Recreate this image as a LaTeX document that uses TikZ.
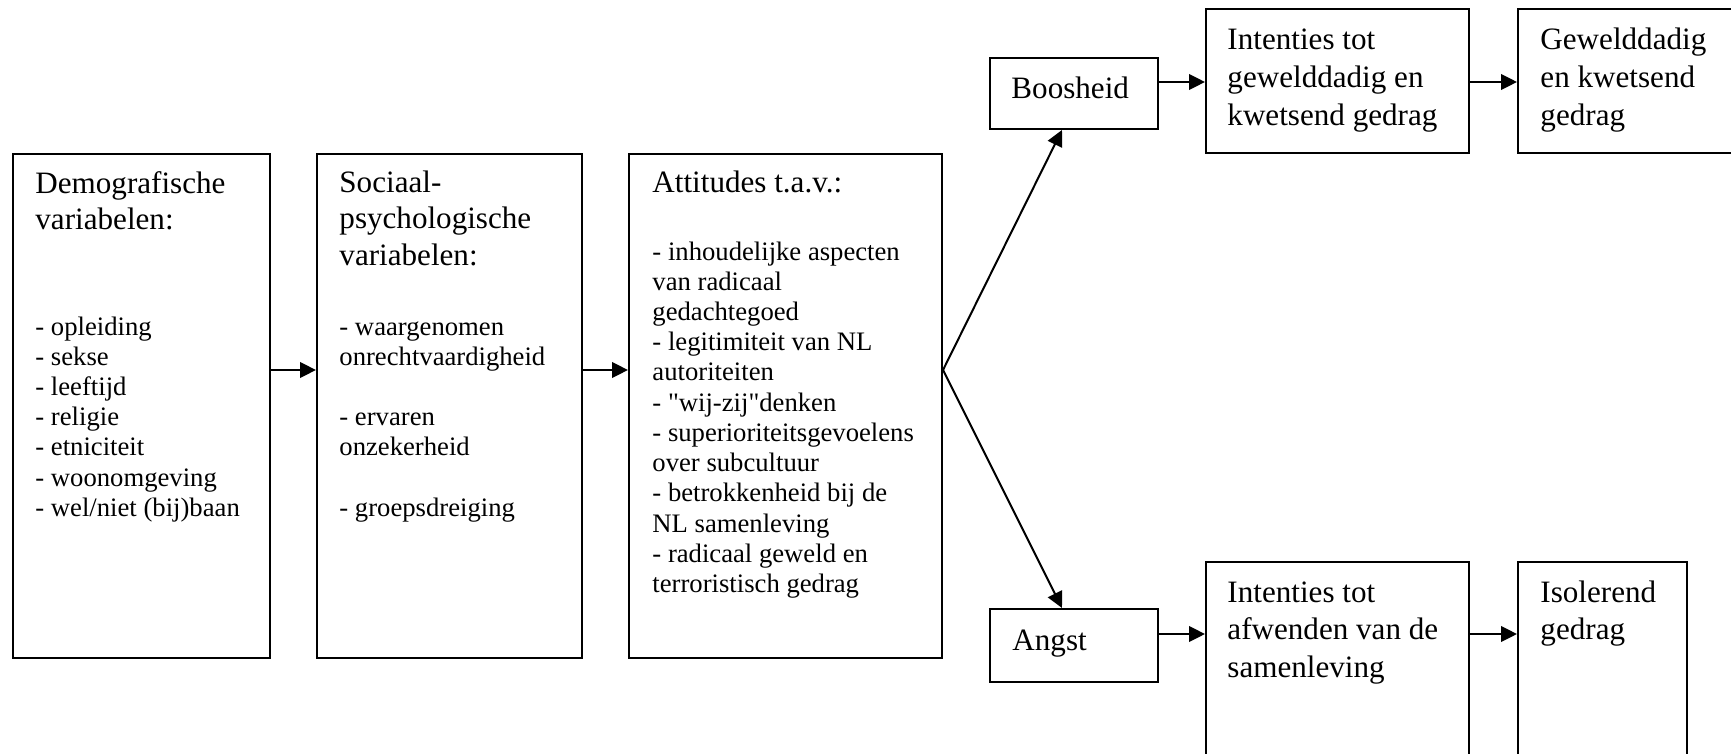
\documentclass[tikz,border=0pt]{standalone}
\usepackage{fontspec}
\setmainfont{Liberation Serif}[Ligatures=TeXOff]
\usetikzlibrary{arrows.meta,fit}
\tikzset{
  box/.style={draw, line width=0.9pt, inner sep=0pt},
  arr/.style={line width=0.9pt, -{Triangle[length=7.2pt,width=7pt]}},
  txt/.style={anchor=base west, inner sep=0pt},
}
\newcommand{\titlefont}{\fontsize{14}{16.2}\selectfont}
\newcommand{\rtitlefont}{\fontsize{14}{16.9}\selectfont}
\newcommand{\listfont}{\fontsize{12}{13.6}\selectfont}
\newcommand{\lines}[1]{\begin{tabular}[t]{@{}l@{}}#1\end{tabular}}
\newcommand{\sq}{\symbol{34}}
\begin{document}
\begin{tikzpicture}[x=0.45pt,y=-0.45pt]
\clip (0,0) rectangle (1731,753);
% boxes
\node[box, fit={(13,154) (270,658)}] (demo) {};
\node[box, fit={(317,154) (582,658)}] (soc) {};
\node[box, fit={(629,154) (942,658)}] (att) {};
\node[box, fit={(990,58) (1158,129)}] (boos) {};
\node[box, fit={(990,609) (1158,682)}] (angst) {};
\node[box, fit={(1206,9) (1469,153)}] (int1) {};
\node[box, fit={(1518,9) (1770,153)}] (gew) {};
\node[box, fit={(1206,562) (1469,780)}] (int2) {};
\node[box, fit={(1518,562) (1687,780)}] (iso) {};
% texts
\node[txt] (demoT) at (35,194) {\titlefont\lines{Demografische\\variabelen:}};
\node[txt] (demoL) at (35,335) {\listfont\lines{- opleiding\\- sekse\\- leeftijd\\- religie\\- etniciteit\\- woonomgeving\\- wel/niet (bij)baan}};
\node[txt] (socT) at (339,193) {\titlefont\lines{Sociaal-\\psychologische\\variabelen:}};
\node[txt] (socL) at (339,335) {\listfont\lines{- waargenomen\\onrechtvaardigheid\\ \\- ervaren\\onzekerheid\\ \\- groepsdreiging}};
\node[txt] (attT) at (652,193) {\titlefont Attitudes t.a.v.:};
\node[txt] (attL) at (652,260) {\listfont\lines{- inhoudelijke aspecten\\van radicaal\\gedachtegoed\\- legitimiteit van NL\\autoriteiten\\- \sq wij-zij\sq denken\\- superioriteitsgevoelens\\over subcultuur\\- betrokkenheid bij de\\NL samenleving\\- radicaal geweld en\\terroristisch gedrag}};
\node[txt] (boosT) at (1011,99) {\titlefont Boosheid};
\node[txt] (angstT) at (1012,650) {\titlefont Angst};
\node[txt] (int1T) at (1227,50) {\rtitlefont\lines{Intenties tot\\gewelddadig en\\kwetsend gedrag}};
\node[txt] (gewT) at (1540,50) {\rtitlefont\lines{Gewelddadig\\en kwetsend\\gedrag}};
\node[txt] (int2T) at (1227,602) {\rtitlefont\lines{Intenties tot\\afwenden van de\\samenleving}};
\node[txt] (isoT) at (1540,602) {\rtitlefont\lines{Isolerend\\gedrag}};
% arrows
\coordinate (r1) at (0,370);
\coordinate (r2) at (0,82);
\coordinate (r3) at (0,634);
\draw[arr] (demo.east |- r1) -- (soc.west |- r1);
\draw[arr] (soc.east |- r1) -- (att.west |- r1);
\draw[arr] (att.east |- r1) -- ([xshift=-5.4pt]boos.south);
\draw[arr] (att.east |- r1) -- ([xshift=-5.4pt]angst.north);
\draw[arr] (boos.east |- r2) -- (int1.west |- r2);
\draw[arr] (int1.east |- r2) -- (gew.west |- r2);
\draw[arr] (angst.east |- r3) -- (int2.west |- r3);
\draw[arr] (int2.east |- r3) -- (iso.west |- r3);
\end{tikzpicture}
\end{document}
